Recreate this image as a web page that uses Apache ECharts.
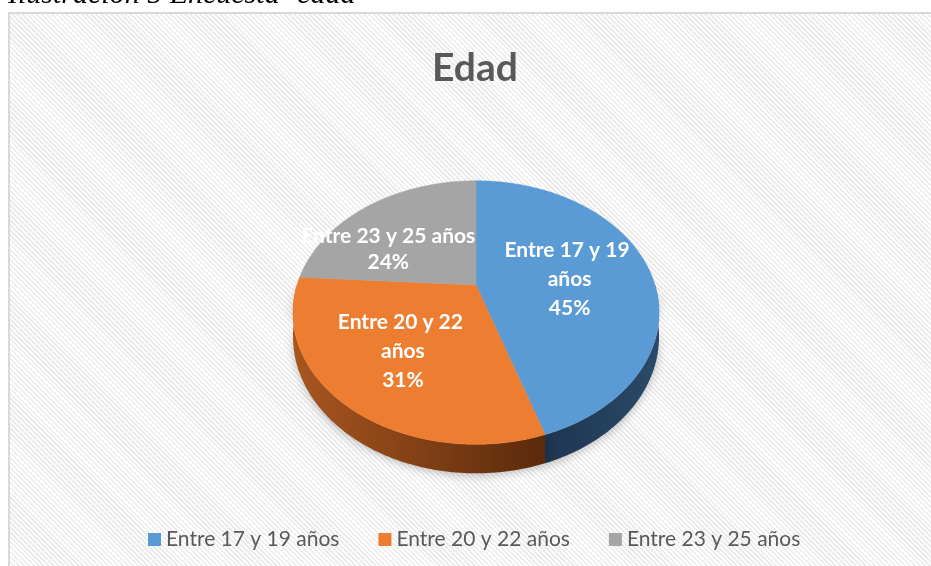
<!DOCTYPE html>
<html>
<head>
<meta charset="utf-8">
<script src="https://cdn.jsdelivr.net/npm/echarts@6/dist/echarts.min.js"></script>
<style>
  html, body { margin: 0; padding: 0; background: #fff; overflow: hidden; }
  #frame {
    position: absolute; left: 8px; top: 12px; width: 940px; height: 580px;
    box-sizing: border-box; border: 2px solid #d9d9d9;
    background: repeating-linear-gradient(45deg, #ffffff 0px, #ffffff 1.8px, #ececec 1.8px, #ececec 3.5px);
  }
  #main { position: absolute; left: 0; top: 0; width: 931px; height: 566px; }
</style>
</head>
<body>
<div id="frame"></div>
<div id="main"></div>
<script>
// datos
var categories = ["Entre 17 y 19 años", "Entre 20 y 22 años", "Entre 23 y 25 años"];
var values = [45, 31, 24];

// estilos por porción
var colors = ["#5B9BD5", "#ED7D31", "#A5A5A5"];
var sideColors = [["#1d3550", "#2b4a69"], ["#a9561f", "#5a2a0c"], ["#6e6e6e", "#4e4e4e"]];
var labelWidth = [140, 140, 190];
var labelShift = [4, 0, -17];   // grados
var labelRadius = [0.53, 0.6, 0.6];
var labelLine = [29, 29, 26];

(function () {
  var total = values.reduce(function (s, v) { return s + v; }, 0);
  var starts = [];
  var acc = 0;
  values.forEach(function (v) { starts.push(acc / total * Math.PI * 2); acc += v; });

  // pastel 3D en perspectiva (centro, radios, profundidad)
  var CX = 476, CY = 285, RX = 179, RY = 126, K = 0.209, DEPTH = 23;
  function scale(t, f) { return 1 / (1 + K * Math.cos(t) * f); }
  function proj(t, f) {
    var s = scale(t, f);
    return [CX + RX * Math.sin(t) * f * s, CY - RY * Math.cos(t) * f * s];
  }
  function arc(a, b, f) {
    var n = Math.max(2, Math.ceil((b - a) / (Math.PI / 180)));
    var pts = [];
    for (var k = 0; k <= n; k++) pts.push(proj(a + (b - a) * k / n, f));
    return pts;
  }

  var myChart = echarts.init(document.getElementById("main"));

  // paredes laterales
  function sideItem(params, api) {
    var i = params.dataIndex;
    var a = starts[i], b = a + api.value(0) / total * Math.PI * 2;
    var lo = Math.max(a, Math.PI / 2), hi = Math.min(b, Math.PI * 1.5);
    if (hi <= lo) return null;
    var top = arc(lo, hi, 1);
    var bottom = top.map(function (p, k) {
      var t = lo + (hi - lo) * k / (top.length - 1);
      return [p[0], p[1] + DEPTH * scale(t, 1)];
    }).reverse();
    return {
      type: "polygon",
      shape: { points: top.concat(bottom) },
      style: {
        fill: new echarts.graphic.LinearGradient(0, 0, 1, 0, [
          { offset: 0, color: sideColors[i][0] },
          { offset: 1, color: sideColors[i][1] }
        ]),
        shadowBlur: 10,
        shadowColor: "rgba(0,0,0,0.25)",
        shadowOffsetY: 2
      }
    };
  }

  // cara superior + etiqueta
  function topItem(i) {
    return function (params, api) {
      var a = starts[i], b = a + api.value(0) / total * Math.PI * 2;
      var pts = [proj(0, 0)].concat(arc(a, b, 1));
      var m = (a + b) / 2 + labelShift[i] * Math.PI / 180;
      var lp = proj(m, labelRadius[i]);
      var pct = Math.round(api.value(0) / total * 100) + "%";
      return {
        type: "group",
        children: [
          { type: "polygon", shape: { points: pts }, style: { fill: colors[i], stroke: colors[i], lineWidth: 0.5 } },
          {
            type: "text", x: lp[0], y: lp[1],
            style: {
              text: categories[i] + "\n" + pct,
              width: labelWidth[i], overflow: "break",
              fill: "#ffffff", font: "bold 21px Lato",
              lineHeight: labelLine[i],
              align: "center", verticalAlign: "middle"
            }
          }
        ]
      };
    };
  }

  var series = [{
    name: "lado",
    type: "custom",
    coordinateSystem: "none",
    z: 1,
    renderItem: sideItem,
    data: values.map(function (v) { return [v]; })
  }];
  categories.forEach(function (c, i) {
    series.push({
      name: c,
      type: "custom",
      coordinateSystem: "none",
      z: 2,
      itemStyle: { color: colors[i] },
      renderItem: topItem(i),
      data: [[values[i]]]
    });
  });

  var option = {
    animation: false,
    title: {
      text: "Edad",
      left: 470,
      top: 44,
      textAlign: "center",
      textStyle: { fontFamily: "Lato", fontWeight: "bold", fontSize: 39, color: "#595959" }
    },
    legend: {
      data: categories,
      left: 143,
      top: 524,
      icon: "rect",
      itemWidth: 13,
      itemHeight: 13,
      itemGap: 39,
      textStyle: { fontFamily: "Lato", fontSize: 21, color: "#595959" }
    },
    graphic: [{
      type: "text",
      left: 8,
      top: -20,
      style: { text: "Ilustración 5 Encuesta -edad", font: "italic 30px 'Liberation Serif'", fill: "#000" }
    }],
    series: series
  };
  myChart.setOption(option);
  //图表自适应
  window.addEventListener("resize", function () {
    myChart.resize();
  });
})();
</script>
</body>
</html>
